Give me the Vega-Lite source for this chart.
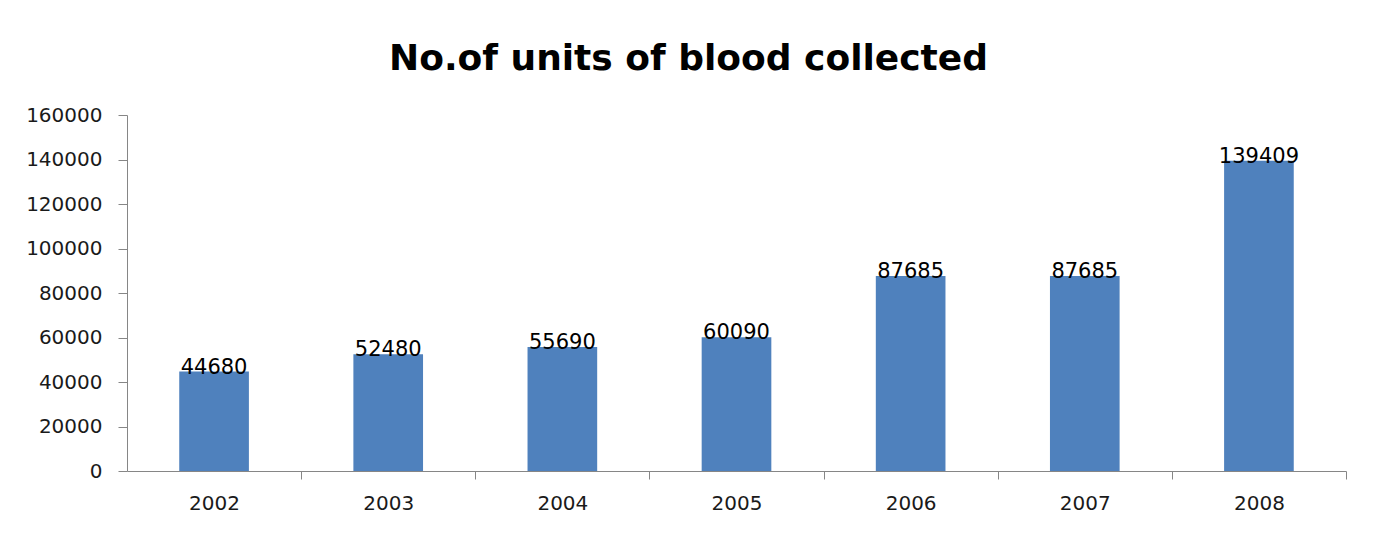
{
  "$schema": "https://vega.github.io/schema/vega-lite/v6.json",
  "autosize": "none",
  "width": 1219,
  "height": 356,
  "padding": {"left": 127, "top": 115, "right": 31, "bottom": 66},
  "background": "white",
  "title": {
    "text": "No.of units of blood collected",
    "font": "DejaVu Sans",
    "fontSize": 36,
    "fontWeight": "bold",
    "color": "#000000",
    "anchor": "middle",
    "dx": -48,
    "baseline": "alphabetic",
    "offset": -1
  },
  "data": {
    "values": [
      {"year": "2002", "units": 44680},
      {"year": "2003", "units": 52480},
      {"year": "2004", "units": 55690},
      {"year": "2005", "units": 60090},
      {"year": "2006", "units": 87685},
      {"year": "2007", "units": 87685},
      {"year": "2008", "units": 139409}
    ]
  },
  "encoding": {
    "x": {
      "field": "year",
      "type": "ordinal",
      "scale": {"paddingInner": 0.6, "paddingOuter": 0.3},
      "axis": {
        "title": null,
        "labelAngle": 0,
        "tickOffset": 87,
        "labelOffset": -87,
        "tickSize": 8,
        "labelPadding": 14,
        "labelFont": "DejaVu Sans",
        "labelFontSize": 20,
        "labelColor": "#1a1a1a",
        "domainColor": "#868686",
        "tickColor": "#868686"
      }
    },
    "y": {
      "field": "units",
      "type": "quantitative",
      "scale": {"domain": [0, 160000], "nice": false},
      "axis": {
        "title": null,
        "values": [0, 20000, 40000, 60000, 80000, 100000, 120000, 140000, 160000],
        "format": "d",
        "grid": false,
        "tickSize": 9,
        "labelPadding": 16,
        "labelFont": "DejaVu Sans",
        "labelFontSize": 20,
        "labelColor": "#1a1a1a",
        "domainColor": "#868686",
        "tickColor": "#868686"
      }
    }
  },
  "layer": [
    {"mark": {"type": "bar", "color": "#4F81BD"}},
    {
      "mark": {"type": "text", "baseline": "alphabetic", "dy": 2, "font": "DejaVu Sans", "fontSize": 21, "color": "#000000"},
      "encoding": {"text": {"field": "units", "type": "quantitative", "format": "d"}}
    }
  ],
  "config": {"view": {"stroke": null}}
}
